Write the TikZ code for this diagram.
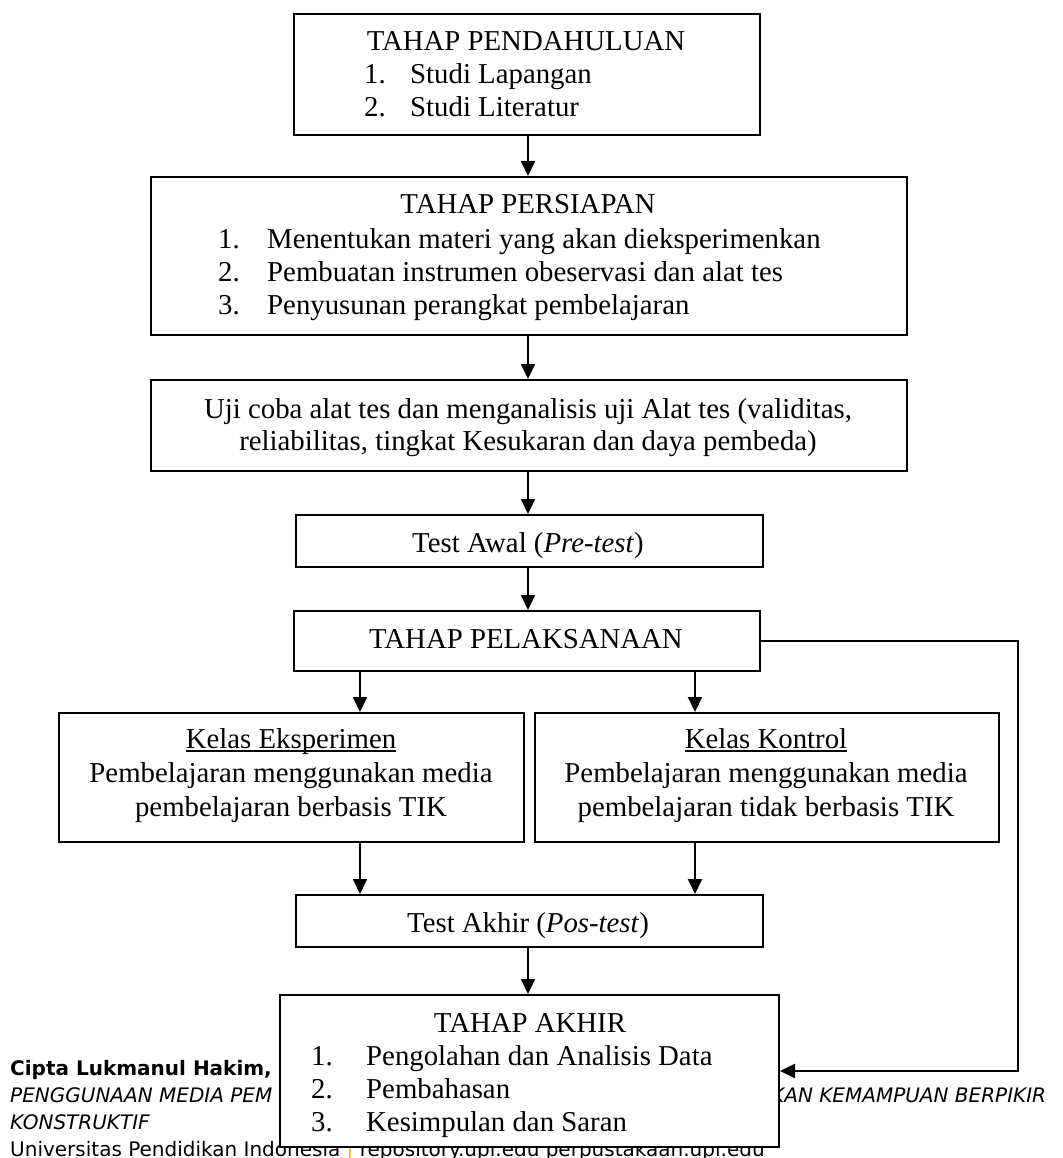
\documentclass[tikz,border=0pt]{standalone}
\usepackage{fontspec}
\setmainfont{Liberation Serif}
\newfontfamily\footfont{DejaVu Sans}
\usetikzlibrary{arrows.meta}
\newcommand\myul[1]{\setbox0\hbox{#1}\rlap{\rule[-3.5pt]{\wd0}{1.6pt}}#1}
\definecolor{barorange}{RGB}{240,170,60}
\begin{document}
\begin{tikzpicture}[x=1pt,y=-1pt,
  box/.style={draw, line width=2pt, fill=white, inner sep=0pt, anchor=north west},
  txt/.style={inner sep=0pt, anchor=base, font=\fontsize{28.8}{33}\selectfont},
  txtl/.style={txt, anchor=base west},
  foot/.style={inner sep=0pt, anchor=base west, font=\footfont\fontsize{20}{24}\selectfont},
  arr/.style={line width=2pt, -{Triangle[length=15pt,width=14pt]}}]
\useasboundingbox (0,0) rectangle (1062,1158);
\fill[white] (0,0) rectangle (1062,1158);

% footer (partly covered by the last box)
\node[foot] (f1) at (10,1075) {\bfseries Cipta Lukmanul Hakim,};
\node[foot] (f2) at (10,1102) {\itshape PENGGUNAAN MEDIA PEM};
\node[foot] (f2b) at (771,1102) {\itshape KAN KEMAMPUAN BERPIKIR};
\node[foot] (f3) at (10,1129) {\itshape KONSTRUKTIF};
\node[foot] (f4) at (10,1156) {Universitas Pendidikan Indonesia {\color{barorange}|} repository.upi.edu perpustakaan.upi.edu};

% boxes
\node[box, minimum width=466pt, minimum height=121pt] (b1) at (293,13) {};
\node[box, minimum width=756pt, minimum height=158pt] (b2) at (150,176) {};
\node[box, minimum width=756pt, minimum height=91pt] (b3) at (150,379) {};
\node[box, minimum width=467pt, minimum height=52pt] (b4) at (295,514) {};
\node[box, minimum width=466pt, minimum height=60pt] (b5) at (293,610) {};
\node[box, minimum width=465pt, minimum height=129pt] (kl) at (58,712) {};
\node[box, minimum width=464pt, minimum height=129pt] (kr) at (534,712) {};
\node[box, minimum width=467pt, minimum height=52pt] (b6) at (295,894) {};
\node[box, minimum width=499pt, minimum height=152pt] (ba) at (279,994) {};

% texts
\node[txt] (t1) at (526,51) {TAHAP PENDAHULUAN};
\node[txtl] (t1n1) at (364,84) {1.};
\node[txtl] (t1a) at (410,84) {Studi Lapangan};
\node[txtl] (t1n2) at (364,117) {2.};
\node[txtl] (t1b) at (410,117) {Studi Literatur};

\node[txt] (t2) at (528,214) {TAHAP PERSIAPAN};
\node[txtl] (t2n1) at (218,248) {1.};
\node[txtl] (t2a) at (267,248) {Menentukan materi yang akan dieksperimenkan};
\node[txtl] (t2n2) at (218,281) {2.};
\node[txtl] (t2b) at (267,281) {Pembuatan instrumen obeservasi dan alat tes};
\node[txtl] (t2n3) at (218,314) {3.};
\node[txtl] (t2c) at (267,314) {Penyusunan perangkat pembelajaran};

\node[txt] (t3a) at (528,418) {Uji coba alat tes dan menganalisis uji Alat tes (validitas,};
\node[txt] (t3b) at (528,450) {reliabilitas, tingkat Kesukaran dan daya pembeda)};

\node[txt] (t4) at (528,552) {Test Awal (\textit{Pre-test})};
\node[txt] (t5) at (526,648) {TAHAP PELAKSANAAN};

\node[txt] (tl1) at (291,748) {\myul{Kelas Eksperimen}};
\node[txt] (tl2) at (291,782) {Pembelajaran menggunakan media};
\node[txt] (tl3) at (291,816) {pembelajaran berbasis TIK};

\node[txt] (tr1) at (766,748) {\myul{Kelas Kontrol}};
\node[txt] (tr2) at (766,782) {Pembelajaran menggunakan media};
\node[txt] (tr3) at (766,816) {pembelajaran tidak berbasis TIK};

\node[txt] (t6) at (528,932) {Test Akhir (\textit{Pos-test})};

\node[txt] (ta) at (530,1032) {TAHAP AKHIR};
\node[txtl] (tan1) at (311,1065) {1.};
\node[txtl] (taa) at (366,1065) {Pengolahan dan Analisis Data};
\node[txtl] (tan2) at (311,1098) {2.};
\node[txtl] (tab) at (366,1098) {Pembahasan};
\node[txtl] (tan3) at (311,1131) {3.};
\node[txtl] (tac) at (366,1131) {Kesimpulan dan Saran};

% connectors
\coordinate (xm) at (528,0);
\coordinate (xl) at (360,0);
\coordinate (xr) at (695,0);
\coordinate (fb) at (1018,0);
\draw[arr] (b1.south -| xm) -- (b2.north -| xm);
\draw[arr] (b2.south -| xm) -- (b3.north -| xm);
\draw[arr] (b3.south -| xm) -- (b4.north -| xm);
\draw[arr] (b4.south -| xm) -- (b5.north -| xm);
\draw[arr] (b5.south -| xl) -- (kl.north -| xl);
\draw[arr] (b5.south -| xr) -- (kr.north -| xr);
\draw[arr] (kl.south -| xl) -- (b6.north -| xl);
\draw[arr] (kr.south -| xr) -- (b6.north -| xr);
\draw[arr] (b6.south -| xm) -- (ba.north -| xm);
\draw[arr] (b5.east) -- (b5.east -| fb) -- (fb |- ba.east) -- (ba.east);
\end{tikzpicture}
\end{document}
